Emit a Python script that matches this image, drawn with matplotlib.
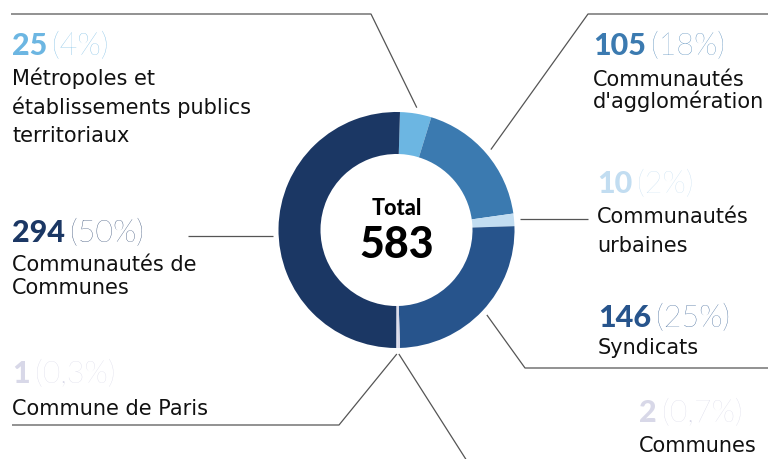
import numpy as np
import matplotlib.pyplot as plt

W, H = 769, 460

# data
counts = [25, 105, 10, 146, 2, 1, 294]
pct_labels = ["(4%)", "(18%)", "(2%)", "(25%)", "(0,7%)", "(0,3%)", "(50%)"]
names = [
    ["Métropoles et", "établissements publics", "territoriaux"],
    ["Communautés", "d'agglomération"],
    ["Communautés", "urbaines"],
    ["Syndicats"],
    ["Communes"],
    ["Commune de Paris"],
    ["Communautés de", "Communes"],
]
colors = ["#6cb6e2", "#3b7ab0", "#c2ddf1", "#27548c", "#d8d8e8", "#d8d8e8", "#1b3764"]
total = sum(counts)

# layout (pixel coords, y from top): number x, number baseline, label baselines
label_pos = [
    (12, 55, [85, 114, 142]),
    (593, 55, [86, 108]),
    (597, 193, [223, 252]),
    (598, 327, [354]),
    (639, 422, [452]),
    (12, 383, [415]),
    (12, 242, [271, 294]),
]
# leader elbows after the anchor point on the ring
elbows = [
    [(371, 15), (11, 15)],
    [(588, 15), (768, 15)],
    [(588, None)],
    [(525, 369), (768, 369)],
    [(467, 462)],
    [(339, 426), (12, 426)],
    [(188, None)],
]
# vertical nudge of the anchor point (pixels, + = down)
anchor_dy = [0, 0, 0, 0, 0, 0, 8]

plt.rcParams["font.family"] = ["Lato", "DejaVu Sans"]
LABEL_FONT = "DejaVu Sans"

fig = plt.figure(figsize=(W / 100, H / 100), dpi=100)
ax = fig.add_axes([0, 0, 1, 1])

cx, cy, R = 396.5, H - 231, 118
wedges, _ = ax.pie(counts, colors=colors, startangle=88.3, counterclock=False,
                   radius=R, center=(cx, cy),
                   wedgeprops=dict(width=42, edgecolor="none"))
ax.set_xlim(0, W)
ax.set_ylim(0, H)
ax.axis("off")

renderer = fig.canvas.get_renderer()

for i, w in enumerate(wedges):
    th = np.deg2rad((w.theta1 + w.theta2) / 2)
    axp, ayp = cx + 124 * np.cos(th), cy + 124 * np.sin(th) - anchor_dy[i]
    xs, ys = [axp], [ayp]
    for ex, ey in elbows[i]:
        xs.append(ex)
        ys.append(ys[-1] if ey is None else H - ey)
    ax.plot(xs, ys, color="#555555", lw=0.9, solid_capstyle="butt")

    x, nb, lb = label_pos[i]
    t = ax.text(x, H - nb, str(counts[i]), color=colors[i], fontsize=22,
                fontweight="black", va="baseline", ha="left")
    bb = t.get_window_extent(renderer)
    ax.text(bb.x1 + 5, H - nb, pct_labels[i], color=colors[i], fontsize=22,
            fontweight="light", va="baseline", ha="left")
    for line, yb in zip(names[i], lb):
        ax.text(x, H - yb, line, color="#111111", fontsize=15,
                family=LABEL_FONT, va="baseline", ha="left")

ax.text(cx, H - 215, "Total", fontsize=15.5, fontweight="black",
        ha="center", va="baseline", color="black")
ax.text(cx, H - 258, str(total), fontsize=31, fontweight="black",
        ha="center", va="baseline", color="black")

fig.savefig("out.png", dpi=100)
